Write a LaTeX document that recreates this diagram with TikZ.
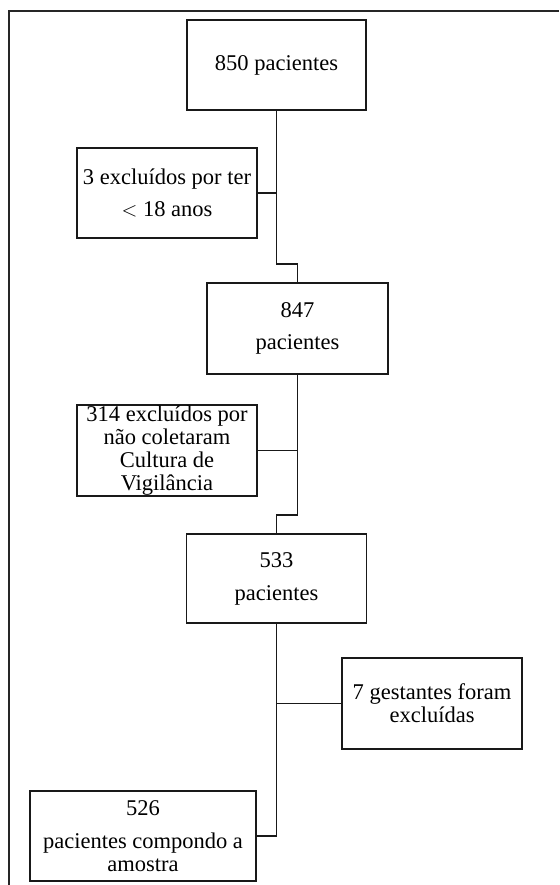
\documentclass[tikz,border=0pt]{standalone}
\usepackage{fontspec}
\setmainfont{Liberation Serif}
\begin{document}
\begin{tikzpicture}[x=1pt,y=-1pt,
  box/.style={draw=black!90,line width=1.8pt,rectangle,inner sep=0pt,align=center,
    font=\fontsize{22.5}{23}\selectfont},
  conn/.style={draw=black!90,line width=1.8pt}]
\useasboundingbox (0,0) rectangle (559,885);
\fill[white] (0,0) rectangle (559,885);
% outer frame (only left and top edges visible)
\draw[line width=1.6pt,black!85] (9,885) -- (9,11) -- (559,11);

\node[box,minimum width=179pt,minimum height=90pt] (b1) at (276.5,65) {850 pacientes};
\node[box,minimum width=180pt,minimum height=90pt] (b2) at (167,193) {3 excluídos por ter\\[9pt]$<$ 18 anos};
\node[box,minimum width=181pt,minimum height=91pt] (b3) at (297.5,328.5) {847\\[9pt]pacientes};
\node[box,minimum width=180pt,minimum height=91pt] (b4) at (167,450.5) {314 excluídos por\\não coletaram\\Cultura de\\Vigilância};
\node[box,minimum width=180pt,minimum height=89pt] (b5) at (276.5,578.5) {533\\[10pt]pacientes};
\node[box,minimum width=180pt,minimum height=91pt] (b6) at (432,703.5) {7 gestantes foram\\excluídas};
\node[box,minimum width=226pt,minimum height=90pt] (b7) at (143,836) {526\\[10pt]pacientes compondo a\\amostra};

\coordinate (j1) at (276.5,264);
\coordinate (j2) at (297.5,515);

\draw[conn] (b1.south) -- (j1) -| (b3.north);
\draw[conn] (b2.east) -- (b2.east -| b1.south);
\draw[conn] (b3.south) -- (j2) -| (b5.north);
\draw[conn] (b4.east) -- (b4.east -| b3.south);
\draw[conn] (b5.south) |- (b7.east);
\draw[conn] (b6.west) -- (b6.west -| b5.south);
\end{tikzpicture}
\end{document}
